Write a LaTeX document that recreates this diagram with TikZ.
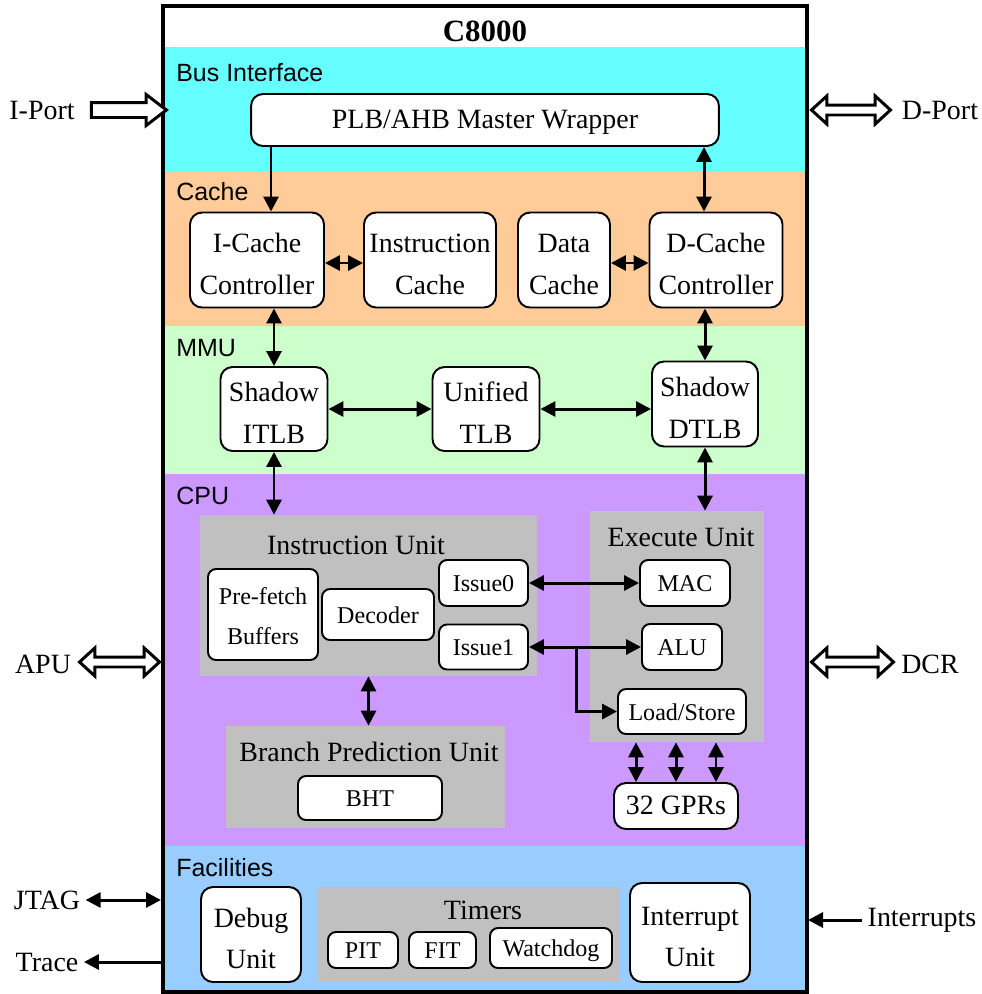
\documentclass[tikz,border=0pt]{standalone}
\usepackage{fontspec}
\setmainfont{Liberation Serif}
\setsansfont{Liberation Sans}
\usetikzlibrary{shapes.arrows,arrows.meta,positioning}

\definecolor{busc}{HTML}{66FFFF}
\definecolor{cachec}{HTML}{FFCC99}
\definecolor{mmuc}{HTML}{CCFFCC}
\definecolor{cpuc}{HTML}{CC99FF}
\definecolor{facc}{HTML}{99CCFF}
\definecolor{unitc}{HTML}{C0C0C0}

\begin{document}
\begin{tikzpicture}[x=0.02cm, y=-0.02cm,
    blk/.style={draw, line width=1.1pt, fill=white, rounded corners=0.24cm,
                inner sep=0pt, align=center, text height=0.95em, text depth=0pt,
                font=\fontsize{15.9}{23.5}\selectfont},
    blktwo/.style={blk, text height=38.9pt, text depth=0pt},
    sblk/.style={blk, rounded corners=0.16cm, text height=1.0em,
                 font=\fontsize{13.7}{22.8}\selectfont},
    sblktwo/.style={sblk, text height=34.5pt, text depth=0pt},
    unit/.style={fill=unitc, inner sep=0pt},
    ttl/.style={font=\fontsize{15.9}{19}\selectfont},
    band/.style={anchor=west, inner sep=0pt, font=\sffamily\fontsize{14.2}{17}\selectfont},
    ext/.style={inner sep=3pt, font=\fontsize{15.9}{19}\selectfont},
    edge/.style={-{Triangle[length=0.3cm,width=0.3cm]}, line width=1.7pt},
    dedge/.style={{Triangle[length=0.3cm,width=0.3cm]}-{Triangle[length=0.3cm,width=0.3cm]}, line width=1.7pt},
    fat/.style={single arrow, draw, fill=white, line width=1.7pt, inner sep=0.12cm,
                minimum width=0pt, single arrow head extend=0.16cm, single arrow tip angle=75},
    dfat/.style={double arrow, draw, fill=white, line width=1.7pt, inner sep=0.07cm,
                 minimum width=0pt, double arrow head extend=0.18cm, double arrow tip angle=85}
]
\useasboundingbox (0,0) rectangle (982,994);

\fill[busc]   (163,47)  rectangle (807,171);
\fill[cachec] (163,171) rectangle (807,326);
\fill[mmuc]   (163,326) rectangle (807,474);
\fill[cpuc]   (163,474) rectangle (807,846);
\fill[facc]   (163,846) rectangle (807,992);
\draw[line width=2.3pt] (163,6) rectangle (807,992);

\node[font=\bfseries\fontsize{17.6}{20}\selectfont] (title) at (485,31) {C8000};
\node[band] (lbus)   at (176,73)  {Bus Interface};
\node[band] (lcache) at (176,192) {Cache};
\node[band] (lmmu)   at (176,348) {MMU};
\node[band] (lcpu)   at (176,496) {CPU};
\node[band] (lfac)   at (176,868) {Facilities};

% grey units
\node[unit, minimum width=6.74cm, minimum height=3.22cm] (iu)  at (368.5,595.5) {};
\node[unit, minimum width=3.48cm, minimum height=4.62cm] (eu)  at (677,626.5)   {};
\node[unit, minimum width=5.58cm, minimum height=2.04cm] (bpu) at (365.5,777)   {};
\node[unit, minimum width=6.04cm, minimum height=1.9cm]  (tmr) at (469,934.5)   {};
\node[ttl] at (356,545) {Instruction Unit};
\node[ttl] at (681,537) {Execute Unit};
\node[ttl] at (369,752) {Branch Prediction Unit};
\node[ttl] at (483,910) {Timers};

\node[blk, minimum width=9.36cm, minimum height=1.04cm]    (plb)  at (485,120) {PLB/AHB Master Wrapper};
\node[blktwo, minimum width=2.68cm, minimum height=1.9cm]  (icc)  at (257,260) {I-Cache\\Controller};
\node[blktwo, minimum width=2.64cm, minimum height=1.9cm]  (ica)  at (430,260) {Instruction\\Cache};
\node[blktwo, minimum width=1.84cm, minimum height=1.9cm]  (dca)  at (564,260) {Data\\Cache};
\node[blktwo, minimum width=2.66cm, minimum height=1.9cm]  (dcc)  at (716,260) {D-Cache\\Controller};
\node[blktwo, minimum width=2.14cm, minimum height=1.68cm] (itlb) at (274,409) {Shadow\\ITLB};
\node[blktwo, minimum width=2.14cm, minimum height=1.68cm] (utlb) at (486,409) {Unified\\TLB};
\node[blktwo, minimum width=2.12cm, minimum height=1.7cm]  (dtlb) at (705,404) {Shadow\\DTLB};

\node[sblktwo, minimum width=2.2cm, minimum height=1.82cm] (pfb) at (263,614.5) {Pre-fetch\\Buffers};
\node[sblk, minimum width=2.24cm, minimum height=1.02cm] (dec) at (378,614.5) {Decoder};
\node[sblk, minimum width=1.78cm, minimum height=0.92cm] (is0) at (483.5,583) {Issue0};
\node[sblk, minimum width=1.78cm, minimum height=0.9cm]  (is1) at (483.5,647) {Issue1};
\node[sblk, minimum width=1.8cm,  minimum height=0.92cm] (mac) at (685,583)   {MAC};
\node[sblk, minimum width=1.6cm,  minimum height=0.92cm] (alu) at (682,647)   {ALU};
\node[sblk, minimum width=2.56cm, minimum height=0.9cm]  (ls)  at (682,711.5) {Load/Store};
\node[sblk, minimum width=2.88cm, minimum height=0.88cm] (bht) at (370,798)   {BHT};
\node[blk,  minimum width=2.48cm, minimum height=0.92cm] (gpr) at (676,806)   {32 GPRs};

\node[blktwo, minimum width=2.0cm, minimum height=1.9cm]  (dbg) at (251,934.5) {Debug\\Unit};
\node[sblk, minimum width=1.4cm,  minimum height=0.72cm]  (pit) at (363,950)   {PIT};
\node[sblk, minimum width=1.34cm, minimum height=0.72cm]  (fit) at (442.5,950) {FIT};
\node[sblk, minimum width=2.44cm, minimum height=0.8cm]   (wdg) at (551,948)   {Watchdog};
\node[blktwo, minimum width=2.4cm, minimum height=1.98cm] (irq) at (690,932.5) {Interrupt\\Unit};

\draw[edge]  ([xshift=0.28cm]icc.north |- plb.south) -- ([xshift=0.28cm]icc.north);
\draw[dedge] ([xshift=-0.24cm]dcc.north |- plb.south) -- ([xshift=-0.24cm]dcc.north);
\draw[dedge] ([yshift=-0.06cm]icc.east) -- ([yshift=-0.06cm]ica.west);
\draw[dedge] ([yshift=-0.06cm]dca.east) -- ([yshift=-0.06cm]dcc.west);
\draw[dedge] (itlb.north) -- (itlb.north |- icc.south);
\draw[dedge] (dtlb.north) -- (dtlb.north |- dcc.south);
\draw[dedge] (itlb.east) -- (utlb.west);
\draw[dedge] (utlb.east) -- (utlb.east -| dtlb.west);
\draw[dedge] (itlb.south) -- (itlb.south |- iu.north);
\draw[dedge] (dtlb.south) -- (dtlb.south |- eu.north);
\draw[dedge] (is0.east) -- (mac.west);
\draw[dedge] (is1.east) -- (alu.west);
\coordinate (split) at (576,647);
\draw[edge]  (split) |- (ls.west);
\draw[dedge] (iu.south) -- (iu.south |- bpu.north);
\foreach \dx in {-0.8cm,0cm,0.8cm}
  \draw[dedge] ([xshift=\dx]gpr.north |- eu.south) -- ([xshift=\dx]gpr.north);

\node[fat,  minimum height=1.5cm]  (iparr)  at (124,110)   {};
\node[ext] (iport) at (42,110) {I-Port};
\node[dfat, minimum height=1.58cm] (dparr)  at (851,110)   {};
\node[ext] (dport) at (940,110) {D-Port};
\node[dfat, minimum height=1.6cm]  (apuarr) at (119.5,662) {};
\node[ext] (apu) at (43,664) {APU};
\node[dfat, minimum height=1.64cm] (dcrarr) at (852.5,662) {};
\node[ext] (dcr) at (930,664) {DCR};

\node[ext] (jtag)  at (47,900)  {JTAG};
\node[ext] (trace) at (47,962)  {Trace};
\node[ext] (irqin) at (922,920) {Interrupts};
\coordinate (jtagp)  at (161,900);
\coordinate (tracep) at (161,962);
\coordinate (irqp)   at (808,920);
\draw[dedge] (jtag.east) -- (jtagp);
\draw[edge]  (tracep) -- (trace.east);
\draw[edge]  (irqin.west) -- (irqp);

\end{tikzpicture}
\end{document}
